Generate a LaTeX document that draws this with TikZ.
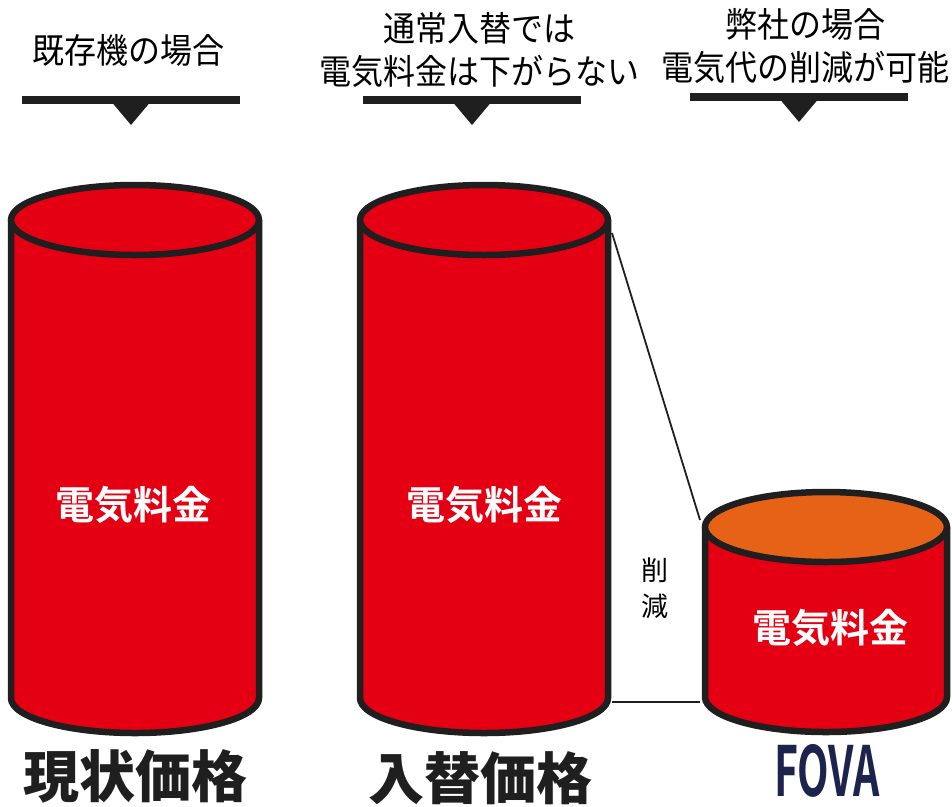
\documentclass[tikz,border=0pt]{standalone}
\usepackage{fontspec}
\newfontfamily\jp{Noto Sans CJK JP}[BoldFont={Noto Sans CJK JP Bold}]
\newfontfamily\jpheavy{Noto Sans CJK JP Black}
\usetikzlibrary{calc}
\definecolor{canred}{RGB}{228,0,18}
\definecolor{canorange}{RGB}{230,98,22}
\definecolor{fovablue}{RGB}{28,36,78}
\tikzset{
	rim/.style={draw=black!88, line width=6.5pt, line join=round},
	headtext/.style={font=\jp\fontsize{32}{39}\selectfont, align=center, inner sep=0pt, yscale=1.08},
	pricetext/.style={font=\jpheavy\fontsize{56}{60}\selectfont, inner sep=0pt},
	cantext/.style={font=\jp\bfseries\fontsize{39}{44}\selectfont, text=white, inner sep=0pt},
	pointer/.style={fill=black!88}
}
% cx, rx, y top, y bottom, ry, colour of the top
\newcommand{\drawcan}[6]{%
	\draw[rim, fill=canred] ({#1-#2},{-#3}) -- ({#1-#2},{-#4})
		arc[start angle=180, end angle=360, x radius=#2, y radius=#5] -- ({#1+#2},{-#3}) -- cycle;
	\draw[rim, fill=#6] (#1,{-#3}) ellipse [x radius=#2, y radius=#5];
}

\begin{document}
\begin{tikzpicture}[x=1pt,y=1pt]
	\useasboundingbox (0,0) rectangle (952,-806);

	% headings with their pointers
	\node[headtext] (head1) at (128,-50) {既存機の場合};
	\node[headtext] (head2) at (479,-50) {通常入替では\\電気料金は下がらない};
	\node[headtext] (head3) at (805,-46) {弊社の場合\\電気代の削減が可能};
	\foreach \px/\py in {131/100, 472/100, 799/97}{
		\fill[pointer] ({\px-109},{-\py-4}) rectangle ({\px+109},{-\py+4});
		\fill[pointer] ({\px-21},{-\py}) -- ({\px+21},{-\py}) -- (\px,{-\py-25}) -- cycle;
	}

	% the three cans
	\drawcan{135}{124}{220}{698}{35}{canred}
	\drawcan{484}{124}{220}{698}{35}{canred}
	\drawcan{826}{121}{527}{697}{35}{canorange}

	% reduction
	\coordinate (oldtop) at (612,-233);
	\coordinate (newtop) at (700,-520);
	\coordinate (oldfoot) at (612,-702);
	\coordinate (newfoot) at (700,-702);
	\draw[line width=1.8pt, black!88] (oldtop) -- (newtop);
	\draw[line width=1.8pt, black!88] (oldfoot) -- (newfoot);
	\node[font=\jp\fontsize{27}{36}\selectfont, align=center, inner sep=0pt] (cut) at (655,-588) {削\\減};

	\node[cantext] (fee1) at (133,-505) {電気料金};
	\node[cantext] (fee2) at (484,-505) {電気料金};
	\node[cantext] (fee3) at (830,-628) {電気料金};

	% prices
	\node[pricetext, text=black!88] (price1) at (135,-776) {現状価格};
	\node[pricetext, text=black!88] (price2) at (480,-778) {入替価格};
	\node[pricetext, text=fovablue, font=\jp\bfseries\fontsize{64}{68}\selectfont, text depth=0pt, xscale=0.64, yscale=1.08, anchor=base] (price3) at (827,-796) {FOVA};
\end{tikzpicture}
\end{document}
